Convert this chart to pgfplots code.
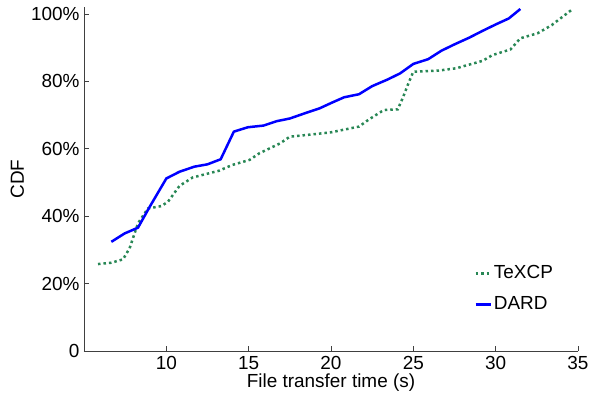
\documentclass[border=0pt]{standalone}
\usepackage{pgfplots}
\pgfplotsset{compat=1.18}
\usepackage{fontspec}
\setmainfont{Liberation Sans}
\definecolor{texcp}{RGB}{40,135,85}
\definecolor{dard}{RGB}{0,0,255}
\begin{document}
\fontsize{19}{22}\selectfont
\begin{tikzpicture}
\path[use as bounding box] (-84bp,-43bp) rectangle (505bp,351bp);
\begin{axis}[
  scale only axis,
  width=494bp, height=343.7bp,
  xmin=5, xmax=35, ymin=0, ymax=102,
  axis x line*=bottom, axis y line*=left,
  axis line style={black!75, line width=0.8bp},
  tick style={black!75, line width=0.8bp},
  tick align=inside,
  major tick length=5bp,
  xtick={10,15,20,25,30,35},
  ytick={0,20,40,60,80,100},
  yticklabels={{0\hspace{10bp}},20\%,40\%,60\%,80\%,100\%},
  /pgf/number format/assume math mode=true,
  tick label style={font=\fontsize{19}{22}\selectfont},
  xticklabel style={yshift=1bp},
  yticklabel style={xshift=2bp},
  xlabel={File transfer time (s)},
  ylabel={CDF},
  label style={font=\fontsize{19}{22}\selectfont},
  xlabel style={at={(axis description cs:0.5,0)}, anchor=north, yshift=-16bp},
  ylabel style={at={(axis description cs:-0.108,0.5)}, anchor=south},
  legend style={draw=none, fill=none, at={(axis description cs:0.79,0.255)}, anchor=north west,
    font=\fontsize{19}{22}\selectfont, inner sep=0pt, row sep=11bp,
    /tikz/every even column/.append style={column sep=2bp}},
  legend cell align=left,
  legend image code/.code={\draw[#1] (0bp,0bp) -- (15bp,0bp);},
  clip=false,
]
\addplot[texcp, line width=2.5bp, dash pattern=on 2.5bp off 3bp] coordinates {
(5.85,25.8) (6.66,26.2) (7.37,27.2) (7.77,30.5) (8.28,37.9) (8.88,42.3) (9.7,43.0)
(10.1,44.3) (10.8,49.0) (11.6,51.5) (13.2,53.5) (14.0,55.2) (15.05,56.7) (15.66,58.7)
(16.9,61.6) (17.5,63.6) (18.9,64.3) (20.0,64.9) (21.7,66.6) (22.3,68.7) (23.2,71.5)
(24.05,71.7) (24.35,75.0) (24.7,79.4) (25.0,82.9) (26.5,83.2) (27.6,83.9) (29.2,86.1)
(29.8,87.8) (30.9,89.5) (31.5,92.8) (32.55,94.3) (33.4,96.7) (34.6,101.2)
};
\addlegendentry{TeXCP}
\addplot[dard, line width=2.5bp] coordinates {
(6.66,32.4) (7.47,34.9) (8.28,36.6) (8.99,42.8) (10.0,51.2) (10.8,53.2) (11.7,54.7)
(12.5,55.4) (13.3,56.9) (14.1,65.1) (14.95,66.4) (15.9,66.9) (16.7,68.2) (17.5,69.0)
(18.5,70.7) (19.3,72.0) (20.1,73.8) (20.8,75.3) (21.7,76.2) (22.5,78.6) (23.45,80.6)
(24.2,82.4) (25.0,85.2) (25.9,86.6) (26.7,89.1) (27.5,91.0) (28.4,93.0) (29.2,95.0)
(30.0,96.9) (30.8,98.7) (31.5,101.5)
};
\addlegendentry{DARD}
\end{axis}
\end{tikzpicture}
\end{document}
